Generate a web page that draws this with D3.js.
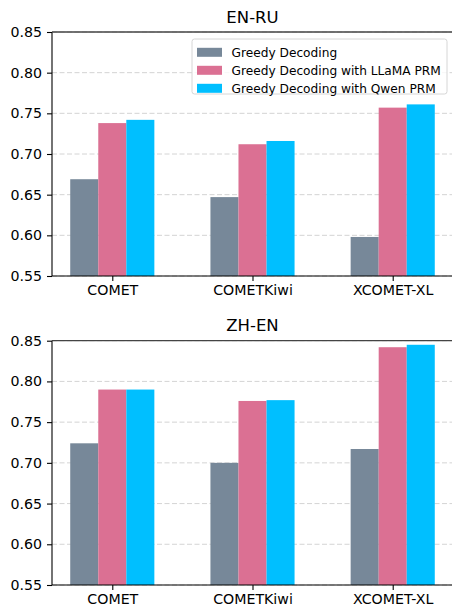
<!DOCTYPE html>
<html>
<head>
<meta charset="utf-8">
<script src="https://cdn.jsdelivr.net/npm/d3@7"></script>
<style>
  body { margin: 0; background: #fff; }
  svg { display: block; font-family: "DejaVu Sans", sans-serif; }
</style>
</head>
<body>
<svg id="chart" width="452" height="610"></svg>
<script>
const metrics = ["COMET", "COMETKiwi", "XCOMET-XL"];
const seriesNames = ["Greedy Decoding", "Greedy Decoding with LLaMA PRM", "Greedy Decoding with Qwen PRM"];
const seriesColors = ["#778899", "#DB7093", "#00BFFF"];

const enRuGreedy = [0.669, 0.647, 0.598];
const enRuLlama = [0.738, 0.712, 0.757];
const enRuQwen = [0.742, 0.716, 0.761];

const zhEnGreedy = [0.724, 0.700, 0.717];
const zhEnLlama = [0.790, 0.776, 0.842];
const zhEnQwen = [0.790, 0.777, 0.845];

const yTicks = [0.55, 0.60, 0.65, 0.70, 0.75, 0.80, 0.85];

const svg = d3.select("#chart");

const x = d3.scaleLinear().domain([-0.43, 2.43]).range([52, 453]);
const barW = 0.2;

function drawPanel(title, top, bottom, series, withLegend) {
  const y = d3.scaleLinear().domain([0.55, 0.85]).range([bottom, top]);
  const g = svg.append("g");

  // grid
  g.append("g").selectAll("line")
    .data(yTicks)
    .join("line")
      .attr("x1", x.range()[0]).attr("x2", x.range()[1])
      .attr("y1", d => y(d)).attr("y2", d => y(d))
      .attr("stroke", "#cfcfcf")
      .attr("stroke-width", 0.9)
      .attr("stroke-dasharray", "5,2.5");

  // bars
  series.forEach((vals, j) => {
    g.append("g").selectAll("rect")
      .data(vals)
      .join("rect")
        .attr("x", (d, i) => x(i + (j - 1) * barW - barW / 2))
        .attr("width", x(barW) - x(0))
        .attr("y", d => y(d))
        .attr("height", d => bottom - y(d))
        .attr("fill", seriesColors[j]);
  });

  // axes
  const yAxis = g.append("g")
    .attr("transform", `translate(${x.range()[0]},0)`)
    .call(d3.axisLeft(y).tickValues(yTicks).tickFormat(d3.format(".2f")).tickSize(5).tickPadding(5));
  const xAxis = g.append("g")
    .attr("transform", `translate(0,${bottom})`)
    .call(d3.axisBottom(x).tickValues([0, 1, 2]).tickFormat(i => metrics[i]).tickSize(5).tickPadding(4));

  [yAxis, xAxis].forEach(a => {
    a.select(".domain").attr("stroke", "#000").attr("stroke-width", 1.1);
    a.selectAll(".tick line").attr("stroke", "#000").attr("stroke-width", 1.1);
    a.selectAll(".tick text").attr("fill", "#000").attr("font-size", 14.2)
      .attr("font-family", "DejaVu Sans, sans-serif");
  });
  yAxis.select(".domain").attr("d", `M0,${bottom}V${top}`);
  xAxis.select(".domain").attr("d", `M${x.range()[0]},0H${x.range()[1]}`);

  // top spine
  g.append("line")
    .attr("x1", x.range()[0]).attr("x2", x.range()[1])
    .attr("y1", top).attr("y2", top)
    .attr("stroke", "#444").attr("stroke-width", 1.3);

  g.append("text")
    .attr("x", (x.range()[0] + x.range()[1]) / 2)
    .attr("y", top - 9.5)
    .attr("text-anchor", "middle")
    .attr("font-size", 16.5)
    .text(title);

  if (withLegend) {
    const lg = g.append("g").attr("transform", "translate(192,39)");
    lg.append("rect")
      .attr("width", 255).attr("height", 55).attr("rx", 2.5)
      .attr("fill", "#fff").attr("fill-opacity", 0.8)
      .attr("stroke", "#d6d6d6").attr("stroke-width", 1);
    const rows = lg.selectAll("g.row")
      .data(seriesNames)
      .join("g")
        .attr("class", "row")
        .attr("transform", (d, i) => `translate(0,${8.8 + i * 18})`);
    rows.append("rect")
      .attr("x", 5).attr("width", 25).attr("height", 9)
      .attr("fill", (d, i) => seriesColors[i]);
    rows.append("text")
      .attr("x", 39.5).attr("y", 9)
      .attr("font-size", 12.2)
      .attr("fill", "#000")
      .text(d => d);
  }
}

drawPanel("EN-RU", 32, 276, [enRuGreedy, enRuLlama, enRuQwen], true);
drawPanel("ZH-EN", 340.7, 585, [zhEnGreedy, zhEnLlama, zhEnQwen], false);
</script>
</body>
</html>
